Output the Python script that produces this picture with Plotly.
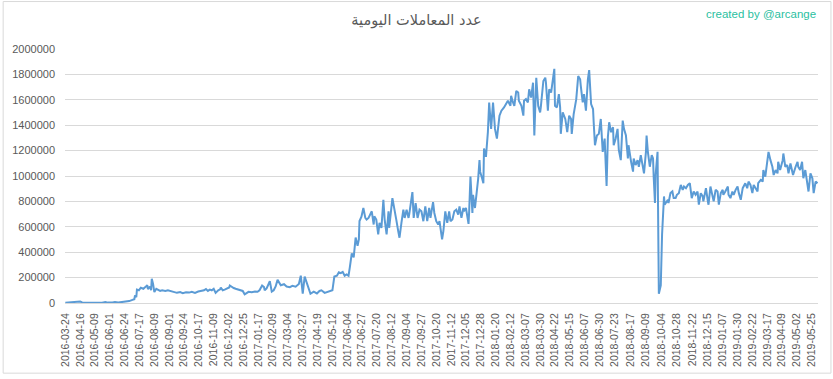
import datetime as dt
import plotly.graph_objects as go

# ---- data ----
start_date = "2016-03-24"
day_offset = [
    0, 8, 14, 19, 23, 26, 34, 42, 49, 57, 62, 66, 73, 77, 82, 88, 94, 99, 104, 107,
    108, 110, 111, 114, 117, 121, 124, 127, 128, 131, 133, 134, 136, 138, 141, 144, 147, 150, 155, 159,
    164, 169, 173, 178, 182, 187, 192, 196, 201, 206, 210, 215, 218, 221, 224, 227, 230, 233, 237, 240,
    241, 244, 247, 250, 254, 255, 258, 261, 264, 267, 272, 275, 278, 281, 284, 289, 294, 298, 301, 305,
    308, 309, 312, 317, 320, 323, 326, 329, 334, 339, 343, 348, 352, 357, 362, 365, 368, 371, 376, 380,
    385, 390, 394, 397, 402, 407, 411, 414, 417, 421, 424, 427, 430, 433, 436, 439, 441, 444, 447, 450,
    453, 455, 456, 459, 462, 465,
    467, 470, 475, 478, 479, 482, 485, 487, 490, 493, 495, 498, 501, 502, 507, 510, 513, 516, 518, 521,
    524, 526, 529, 532, 533, 538, 540, 543, 546, 549, 552, 555, 558, 561, 564, 566, 570, 572, 575, 578,
    580, 584, 586, 589, 592, 595, 597, 600, 603, 606, 609, 611, 614, 617, 618, 621, 625, 626, 628, 631,
    632, 635, 637, 640, 642, 643, 646, 648, 649, 652, 655, 657,
    660, 663, 666, 669, 673, 676, 680, 683, 686, 690, 691, 694, 696, 699, 702, 703, 707, 710, 711, 714,
    717, 719, 722, 725, 727, 730, 733, 736, 737, 741, 744, 745, 748, 750, 753, 758, 759, 762, 765, 767,
    768, 771, 775, 778, 781, 784, 785, 788, 792, 795, 798, 799, 802, 804, 807, 810, 812, 815, 818, 819,
    821, 824, 827, 830, 833, 836, 839, 841, 843, 846, 849, 850, 853, 856, 858, 861, 864, 866, 869, 872,
    873, 877, 880, 881, 884, 887, 889, 892, 895, 897, 900, 901, 903, 906, 909, 911, 912, 914, 915, 917,
    918, 920, 921, 923, 925, 928, 929, 932, 934, 935, 938, 941, 943, 946, 948, 951, 954, 957, 959, 962,
    965, 968, 971, 974, 977, 980, 982, 985, 988, 989, 993, 996, 997, 1000, 1003, 1005, 1008, 1011, 1013, 1016,
    1019, 1020, 1023, 1027, 1028, 1031, 1034, 1036, 1039, 1042, 1044, 1047, 1050, 1051, 1054, 1057, 1059, 1062, 1065, 1067,
    1070, 1073, 1074, 1078, 1081, 1082, 1085, 1088, 1090, 1093, 1096, 1098, 1101, 1104, 1105, 1108, 1112, 1113, 1116, 1119,
    1121, 1124, 1127, 1128, 1132, 1135, 1136, 1139, 1142, 1144, 1147, 1150, 1152, 1155, 1158, 1160, 1163, 1166,
]
transactions = [
    2000, 5000, 12000, 14000, 12000, 4000, 2000, 2000, 3000, 2000, 8000, 3000, 4000, 8000, 4000, 6000, 10000, 15000, 25000, 30000,
    60000, 45000, 105000, 100000, 120000, 112000, 125000, 140000, 110000, 130000, 100000, 190000, 150000, 86000, 112000, 105000, 95000, 100000, 95000, 100000,
    92000, 88000, 80000, 86000, 78000, 85000, 82000, 88000, 80000, 90000, 95000, 100000, 110000, 95000, 105000, 100000, 112000, 80000, 100000, 108000,
    122000, 100000, 105000, 115000, 122000, 138000, 125000, 118000, 112000, 108000, 105000, 95000, 68000, 80000, 88000, 84000, 90000, 88000, 100000, 138000,
    125000, 100000, 115000, 171000, 90000, 100000, 130000, 182000, 140000, 148000, 130000, 125000, 135000, 128000, 150000, 215000, 73000, 208000, 138000, 73000,
    90000, 75000, 95000, 100000, 80000, 88000, 90000, 100000, 208000, 215000, 242000, 235000, 245000, 215000, 225000, 215000, 280000, 390000, 360000, 515000,
    450000, 500000, 645000, 680000, 748000, 670000,
    657000, 670000, 722000, 618000, 683000, 657000, 540000, 631000, 592000, 813000, 657000, 540000, 722000, 592000, 826000, 722000, 657000, 566000, 514000, 631000,
    735000, 670000, 735000, 670000, 696000, 873000, 670000, 787000, 670000, 735000, 722000, 644000, 761000, 644000, 748000, 670000, 795000, 709000, 644000, 618000,
    644000, 501000, 566000, 722000, 631000, 722000, 644000, 657000, 722000, 735000, 696000, 761000, 670000, 748000, 722000, 748000, 623000, 722000, 995000, 709000,
    852000, 748000, 826000, 982000, 1125000, 1034000, 982000, 943000, 1216000, 1151000, 1345000, 1579000,
    1371000, 1579000, 1371000, 1294000, 1475000, 1514000, 1540000, 1566000, 1592000, 1553000, 1631000, 1579000, 1553000, 1670000, 1657000, 1592000, 1553000, 1475000, 1592000, 1605000,
    1579000, 1683000, 1618000, 1735000, 1319000, 1774000, 1553000, 1501000, 1540000, 1748000, 1774000, 1735000, 1514000, 1683000, 1657000, 1844000, 1553000, 1540000, 1644000, 1540000,
    1332000, 1501000, 1449000, 1345000, 1475000, 1449000, 1332000, 1488000, 1605000, 1787000, 1761000, 1709000, 1579000, 1644000, 1514000, 1761000, 1834000, 1566000, 1527000, 1423000,
    1242000, 1319000, 1332000, 1449000, 1190000, 1294000, 922000, 1306000, 1423000, 1345000, 1384000, 1242000, 1294000, 1371000, 1203000, 1125000, 1436000, 1371000, 1319000, 1138000,
    1242000, 1112000, 1034000, 1138000, 1086000, 1125000, 1073000, 1164000, 1060000, 1021000, 1190000, 1319000, 1190000, 1073000, 1164000, 1138000, 995000, 787000, 1008000, 1138000,
    1190000, 73000, 99000, 138000, 540000, 839000, 774000, 800000, 813000, 787000, 865000, 878000, 826000, 826000, 852000, 865000, 930000, 891000, 917000, 904000,
    930000, 943000, 826000, 878000, 852000, 878000, 774000, 865000, 839000, 800000, 904000, 800000, 774000, 917000, 852000, 800000, 891000, 878000, 774000, 865000,
    891000, 852000, 878000, 917000, 852000, 826000, 878000, 852000, 891000, 917000, 865000, 813000, 904000, 917000, 943000, 904000, 956000, 930000, 865000, 930000,
    904000, 878000, 943000, 969000, 956000, 1047000, 995000, 1099000, 1190000, 1125000, 1073000, 1008000, 1047000, 1021000, 1112000, 1047000, 1125000, 1177000, 1073000, 1086000,
    1021000, 1099000, 1034000, 1008000, 1073000, 1112000, 1073000, 1047000, 1112000, 982000, 1047000, 956000, 878000, 1021000, 982000, 865000, 956000, 943000,
]
tick_labels = [
    "2016-03-24", "2016-04-16", "2016-05-09", "2016-06-01", "2016-06-24", "2016-07-17",
    "2016-08-09", "2016-09-01", "2016-09-24", "2016-10-17", "2016-11-09", "2016-12-02",
    "2016-12-25", "2017-01-17", "2017-02-09", "2017-03-04", "2017-03-27", "2017-04-19",
    "2017-05-12", "2017-06-04", "2017-06-27", "2017-07-20", "2017-08-12", "2017-09-04",
    "2017-09-27", "2017-10-20", "2017-11-12", "2017-12-05", "2017-12-28", "2018-01-20",
    "2018-02-12", "2018-03-07", "2018-03-30", "2018-04-22", "2018-05-15", "2018-06-07",
    "2018-06-30", "2018-07-23", "2018-08-17", "2018-09-09", "2018-10-04", "2018-10-28",
    "2018-11-22", "2018-12-15", "2019-01-07", "2019-01-30", "2019-02-22", "2019-03-17",
    "2019-04-09", "2019-05-02", "2019-05-25",
]
y_ticks = [0, 200000, 400000, 600000, 800000, 1000000, 1200000, 1400000, 1600000, 1800000, 2000000]
title_text = "عدد المعاملات اليومية"
credit_text = "created by @arcange"

# ---- build ----
base = dt.datetime.strptime(start_date, "%Y-%m-%d")
dates = [(base + dt.timedelta(days=d)).strftime("%Y-%m-%d") for d in day_offset]

fig = go.Figure()
fig.add_trace(go.Scatter(
    x=dates, y=transactions, mode="lines",
    line=dict(color="#5B9BD5", width=2),
    showlegend=False, hoverinfo="x+y",
))

W, H = 833, 379
L, R, T, B = 63, 15, 49, 73
pw, ph = W - L - R, H - T - B

fig.update_layout(
    width=W, height=H, autosize=False,
    margin=dict(l=L, r=R, t=T, b=B, pad=0),
    paper_bgcolor="white", plot_bgcolor="white",
    font=dict(family="Liberation Sans, Arial, sans-serif", color="#595959", size=11),
    title=dict(text=title_text, x=0.5, xanchor="center", y=1 - 20 / H, yanchor="middle",
               font=dict(family="DejaVu Sans, sans-serif", size=14.5, color="#595959")),
    xaxis=dict(
        type="date",
        range=["2016-03-23 12:00", "2019-06-03 17:00"],
        tickmode="array", tickvals=tick_labels, ticktext=tick_labels,
        tickangle=-90, tickfont=dict(size=10.5, color="#595959"),
        showgrid=False, zeroline=False, showline=True, linecolor="#d9d9d9", linewidth=1,
        ticks="", ticklabelstandoff=5, fixedrange=True,
    ),
    yaxis=dict(
        range=[0, 2000000], tickmode="array", tickvals=y_ticks,
        ticktext=[str(v) for v in y_ticks],
        showgrid=True, gridcolor="#d9d9d9", gridwidth=1,
        zeroline=False, showline=False, ticks="",
        tickfont=dict(size=11, color="#595959"), ticklabelstandoff=9,
        fixedrange=True,
    ),
)

fig.add_annotation(
    text=credit_text, xref="paper", yref="paper",
    x=(818 - L) / pw, y=(H - B - 14) / ph, xanchor="right", yanchor="middle",
    showarrow=False, font=dict(family="Liberation Sans, Arial, sans-serif", size=11.5, color="#2bbf9f"),
)

# chart-area border
fig.add_shape(
    type="rect", xref="paper", yref="paper",
    x0=(1 - L) / pw, x1=(831 - L) / pw, y0=(H - B - 377) / ph, y1=(H - B - 1) / ph,
    line=dict(color="#d9d9d9", width=1), fillcolor="rgba(0,0,0,0)", layer="below",
)

fig.write_html(
    "out.html",
    config={"displayModeBar": False, "staticPlot": False},
    post_script="document.body.style.margin='0';",
)
